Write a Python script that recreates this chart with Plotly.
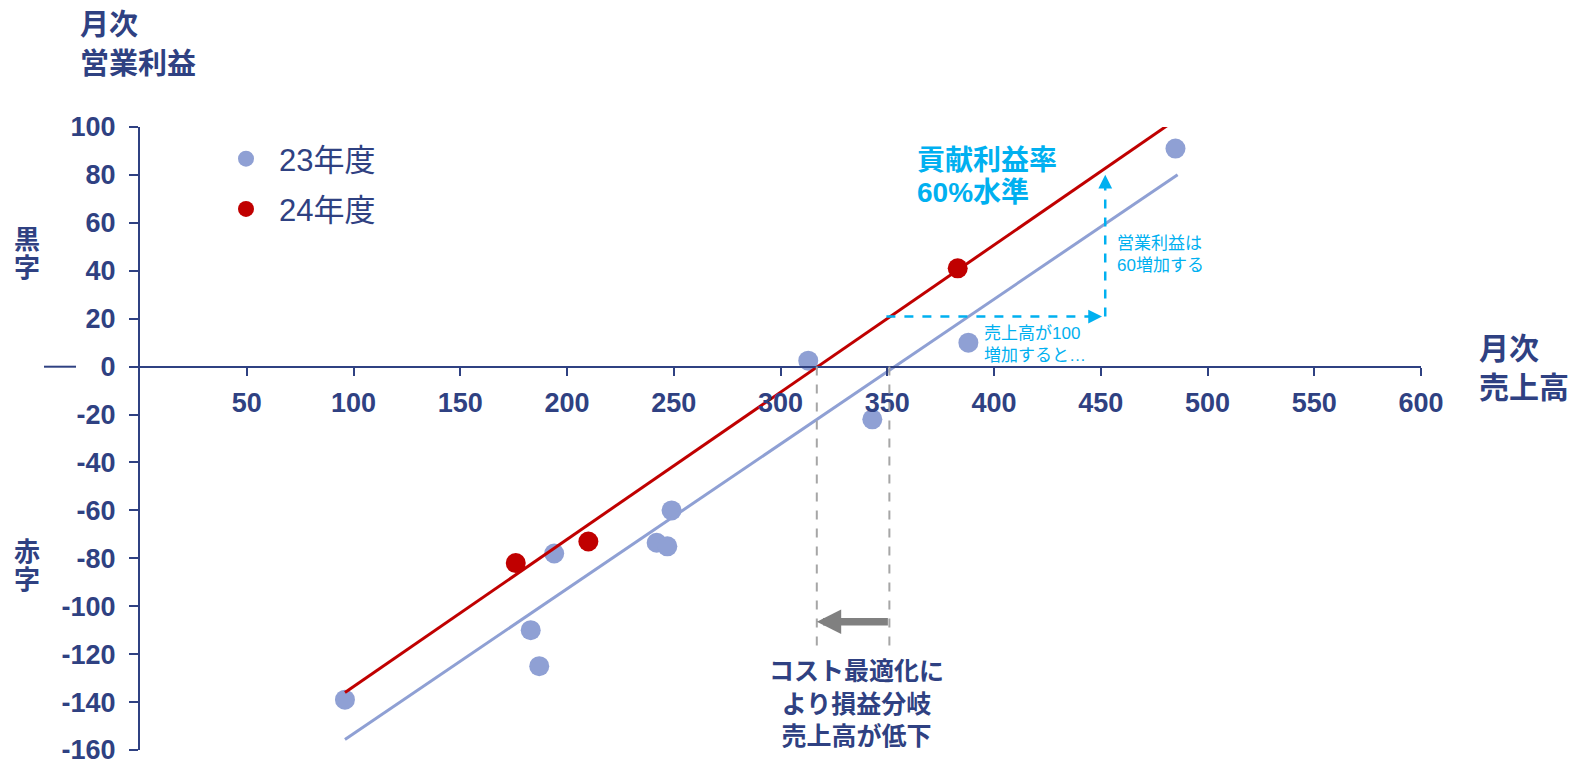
import plotly.graph_objects as go

# ---------------- data ----------------
sales_23 = [96, 183, 187, 194, 242, 247, 249, 313, 343, 388, 485]
profit_23 = [-139, -110, -125, -78, -73.5, -75, -60, 2.5, -22, 10, 91]
sales_24 = [176, 210, 383]
profit_24 = [-82, -73, 41]

trend23_x = [96, 486]
trend23_y = [-155.6, 80.1]
trend24_x = [96, 481]
trend24_y = [-136, 100.5]

breakeven_23 = 351
breakeven_24 = 317
guide_y_bottom = -117
cost_arrow_y = -106.5

step_start = (349.6, 20.9)
step_h_tip = 450.6
step_v_x = 452.1
step_v_tip = 80.1

x_ticks = [50, 100, 150, 200, 250, 300, 350, 400, 450, 500, 550, 600]
y_ticks = [-160, -140, -120, -100, -80, -60, -40, -20, 0, 20, 40, 60, 80, 100]

NAVY = "#2F4182"
BLUE = "#8FA0D4"
RED = "#C00000"
CYAN = "#00B0F0"
GRAY = "#808080"
LGRAY = "#A6A6A6"
FONT = "Liberation Sans, Arial, Noto Sans CJK JP, sans-serif"

W, H = 1572, 759
PL, PR, PT, PB = 140, 1421, 127, 750


def px(x):
    return (x - PL) / (PR - PL)


def py(y):
    return (PB - y) / (PB - PT)


fig = go.Figure()

fig.add_trace(go.Scatter(x=sales_23, y=profit_23, mode="markers", name="23年度", legendgroup="a",
                         marker=dict(color=BLUE, size=20), cliponaxis=False))
fig.add_trace(go.Scatter(x=trend23_x, y=trend23_y, mode="lines", showlegend=False,
                         line=dict(color=BLUE, width=3), cliponaxis=False))
fig.add_trace(go.Scatter(x=trend24_x, y=trend24_y, mode="lines", showlegend=False,
                         line=dict(color=RED, width=3), cliponaxis=False))
fig.add_trace(go.Scatter(x=sales_24, y=profit_24, mode="markers", name="24年度", legendgroup="b",
                         marker=dict(color=RED, size=20), cliponaxis=False))

shapes = []
for bx in (breakeven_24, breakeven_23):
    shapes.append(dict(type="line", xref="x", yref="y", x0=bx, x1=bx, y0=0, y1=guide_y_bottom,
                       line=dict(color=LGRAY, width=2, dash="dash")))
shapes.append(dict(type="line", xref="x", yref="y", x0=step_start[0], x1=step_h_tip - 4,
                   y0=step_start[1], y1=step_start[1], line=dict(color=CYAN, width=2.5, dash="dash")))
shapes.append(dict(type="line", xref="x", yref="y", x0=step_v_x, x1=step_v_x,
                   y0=step_start[1], y1=step_v_tip - 3, line=dict(color=CYAN, width=2.5, dash="dash")))
shapes.append(dict(type="line", xref="paper", yref="paper", x0=px(44), x1=px(76),
                   y0=py(366.7), y1=py(366.7), line=dict(color=NAVY, width=2)))

annotations = []
annotations.append(dict(x=step_h_tip, y=step_start[1], ax=step_h_tip - 6, ay=step_start[1],
                        xref="x", yref="y", axref="x", ayref="y", text="", showarrow=True,
                        arrowhead=2, arrowsize=1.1, arrowwidth=2.5, arrowcolor=CYAN, standoff=0))
annotations.append(dict(x=step_v_x, y=step_v_tip, ax=step_v_x, ay=step_v_tip - 5,
                        xref="x", yref="y", axref="x", ayref="y", text="", showarrow=True,
                        arrowhead=2, arrowsize=1.1, arrowwidth=2.5, arrowcolor=CYAN, standoff=0))
annotations.append(dict(x=breakeven_24, y=cost_arrow_y, ax=breakeven_23, ay=cost_arrow_y,
                        xref="x", yref="y", axref="x", ayref="y", text="", showarrow=True,
                        arrowhead=2, arrowsize=0.65, arrowwidth=7.5, arrowcolor=GRAY, standoff=0))


def txt(text, x, y, size, color, bold=False, xanchor="left", yanchor="middle", align="left"):
    annotations.append(dict(text=text, x=px(x), y=py(y), xref="paper", yref="paper",
                            xanchor=xanchor, yanchor=yanchor, align=align, showarrow=False,
                            font=dict(family=FONT, size=size, color=color,
                                      weight="bold" if bold else "normal")))


txt("月次", 78, 25, 29, NAVY, bold=True)
txt("営業利益", 78, 64, 29, NAVY, bold=True)
txt("黒", 27, 239.5, 26, NAVY, bold=True, xanchor="center")
txt("字", 27, 267.5, 26, NAVY, bold=True, xanchor="center")
txt("赤", 27, 552, 26, NAVY, bold=True, xanchor="center")
txt("字", 27, 580, 26, NAVY, bold=True, xanchor="center")
txt("月次", 1477, 348, 30, NAVY, bold=True)
txt("売上高", 1477, 387, 30, NAVY, bold=True)
txt("貢献利益率", 915, 160, 28, CYAN, bold=True)
txt("60%水準", 915, 192, 28, CYAN, bold=True)
txt("営業利益は<br>60増加する", 1115, 254, 17, CYAN)
txt("売上高が100<br>増加すると…", 982, 344, 17, CYAN)
txt("コスト最適化に<br>より損益分岐<br>売上高が低下", 857, 703, 25, NAVY, bold=True,
    xanchor="center", align="center")

tickfont = dict(family=FONT, size=27, color=NAVY, weight="bold")

fig.update_layout(
    width=W, height=H,
    margin=dict(l=PL, r=W - PR, t=PT, b=H - PB, pad=0, autoexpand=False),
    paper_bgcolor="white", plot_bgcolor="white",
    font=dict(family=FONT, color=NAVY),
    showlegend=True,
    legend=dict(x=px(213), y=py(132), xanchor="left", yanchor="top",
                font=dict(family=FONT, size=31, color=NAVY), bgcolor="rgba(0,0,0,0)",
                itemwidth=56, tracegroupgap=7),
    xaxis=dict(range=[0, 600], tickvals=x_ticks, ticktext=[str(v) for v in x_ticks],
               anchor="free", position=160 / 260, showline=True, linecolor=NAVY, linewidth=2,
               ticks="outside", ticklen=8, tickwidth=2, tickcolor=NAVY, showgrid=False,
               zeroline=False, tickfont=tickfont, ticklabelstandoff=4,
               ticklabeloverflow="allow", automargin=False),
    yaxis=dict(range=[-160, 100], tickvals=y_ticks, ticktext=[str(v) for v in y_ticks],
               showline=True, linecolor=NAVY, linewidth=2, ticks="outside", ticklen=9,
               tickwidth=2, tickcolor=NAVY, showgrid=False, zeroline=False,
               tickfont=tickfont, ticklabelstandoff=8, ticklabeloverflow="allow",
               automargin=False),
    shapes=shapes, annotations=annotations,
)

fig.write_html("out.html")
